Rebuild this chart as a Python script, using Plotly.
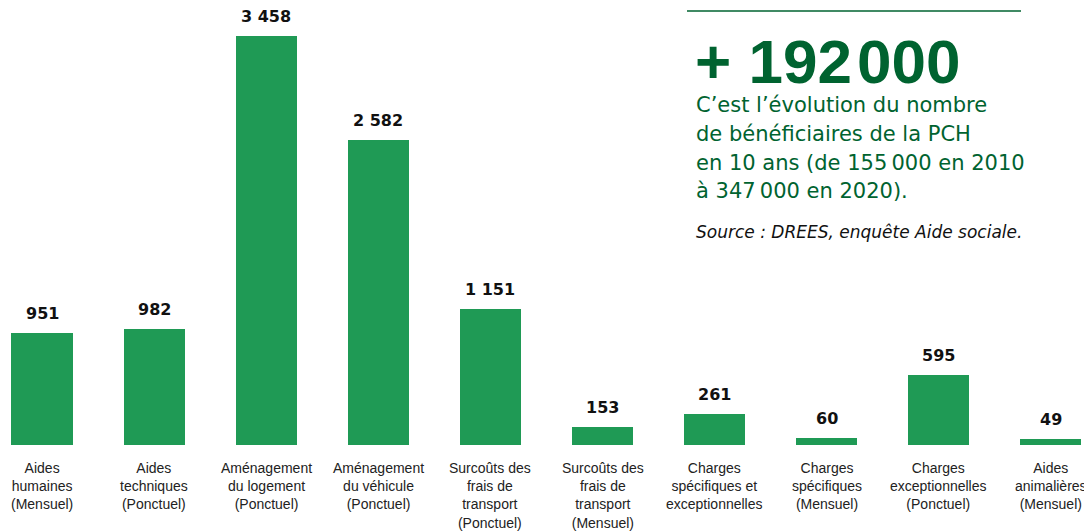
import plotly.graph_objects as go

categories = [
    "Aides<br>humaines<br>(Mensuel)",
    "Aides<br>techniques<br>(Ponctuel)",
    "Aménagement<br>du logement<br>(Ponctuel)",
    "Aménagement<br>du véhicule<br>(Ponctuel)",
    "Surcoûts des<br>frais de<br>transport<br>(Ponctuel)",
    "Surcoûts des<br>frais de<br>transport<br>(Mensuel)",
    "Charges<br>spécifiques et<br>exceptionnelles",
    "Charges<br>spécifiques<br>(Mensuel)",
    "Charges<br>exceptionnelles<br>(Ponctuel)",
    "Aides<br>animalières<br>(Mensuel)",
]
values = [951, 982, 3458, 2582, 1151, 153, 261, 60, 595, 49]
value_labels = ["951", "982", "3 458", "2 582", "1 151", "153", "261", "60", "595", "49"]

headline = "+ 192\u200a000"
paragraph_lines = [
    "C’est l’évolution du nombre",
    "de bénéficiaires de la PCH",
    "en 10 ans (de 155\u2009000 en 2010",
    "à 347\u2009000 en 2020).",
]
source_text = "Source : DREES, enquête Aide sociale."

BAR = "#1f9a55"
DARK = "#006330"
FONT = "Liberation Sans, Arial, Helvetica, sans-serif"
WIDE = "DejaVu Sans, Verdana, sans-serif"

# page body has an 8px margin: the figure is drawn 8px in from the corner
O = 8
W, H = 1092 - O, 531 - O
T, B = 0, 86
PLOT_H = H - T - B

x = list(range(len(values)))
fig = go.Figure(go.Bar(x=x, y=values, marker=dict(color=BAR, line=dict(width=0)),
                       width=0.545, hoverinfo="skip"))

ann = []
for i, (v, t) in enumerate(zip(values, value_labels)):
    ann.append(dict(x=i, y=v, xref="x", yref="y", text=t, showarrow=False,
                    yanchor="bottom", xanchor="center", yshift=8,
                    font=dict(family=WIDE, size=16, color="#111111", weight="bold")))
for i, c in enumerate(categories):
    ann.append(dict(x=i, y=0, xref="x", yref="y", text=c, showarrow=False,
                    yanchor="top", xanchor="center", yshift=-13,
                    font=dict(family=FONT, size=14, color="#222222")))


def py(p):
    return (PLOT_H - (p - O)) / PLOT_H


def px(p):
    return (p - O) / W


ann.append(dict(x=px(693), y=py(61), xref="paper", yref="paper", text=headline,
                showarrow=False, xanchor="left", yanchor="middle",
                height=56, valign="middle",
                font=dict(family=FONT, size=62, color=DARK, weight="bold")))
for ly, line in zip([105, 134, 163, 191], paragraph_lines):
    ann.append(dict(x=px(694), y=py(ly), xref="paper", yref="paper", text=line,
                    showarrow=False, xanchor="left", yanchor="middle",
                    font=dict(family=WIDE, size=21, color=DARK)))
ann.append(dict(x=px(694), y=py(232), xref="paper", yref="paper",
                text="<i>" + source_text + "</i>", showarrow=False,
                xanchor="left", yanchor="middle",
                font=dict(family=WIDE, size=17, color="#111111")))

fig.update_layout(
    width=W, height=H,
    margin=dict(l=0, r=0, t=T, b=B),
    paper_bgcolor="white", plot_bgcolor="white",
    showlegend=False,
    bargap=0,
    xaxis=dict(range=[-0.3033, 9.3666], showticklabels=False, showgrid=False,
               zeroline=False, showline=False, ticks=""),
    yaxis=dict(range=[0, 3694.7], showticklabels=False, showgrid=False,
               zeroline=False, showline=False, ticks=""),
    annotations=ann,
    shapes=[dict(type="line", xref="paper", yref="paper", x0=px(687), x1=px(1021),
                 y0=py(11), y1=py(11), line=dict(color=DARK, width=1.5))],
)

fig.write_html("out.html")
